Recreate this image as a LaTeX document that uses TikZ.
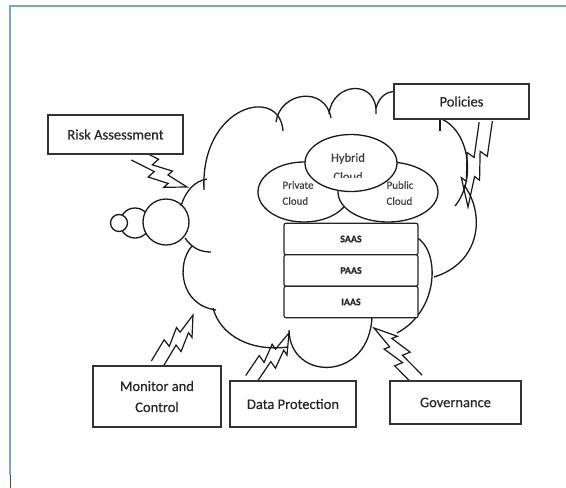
\documentclass[tikz,border=0pt]{standalone}
\usepackage{fontspec}
\setmainfont{Carlito}[FakeBold=0.4]
\usetikzlibrary{shapes.geometric,calc,backgrounds}

\definecolor{frameblue}{RGB}{122,166,196}
\definecolor{framedark}{RGB}{90,72,60}

\tikzset{
	cloudline/.style={line width=1.3pt, draw=black!90},
	boxnode/.style={draw=black!80, line width=1.1pt, fill=white, text=black!85, align=center, inner sep=0pt, font=\fontsize{14.5}{21}\selectfont},
	stackbox/.style={draw=black!85, line width=1.2pt, fill=white, rounded corners=2pt, minimum width=134, minimum height=31.5, inner sep=0pt, text=black!85, font=\bfseries\fontsize{10}{12}\selectfont},
	cloudpart/.style={ellipse, draw=black!90, line width=1.3pt, fill=white, inner sep=0pt},
	partlabel/.style={text=black!75, align=left, inner sep=0pt, font=\fontsize{11}{16}\selectfont},
	zap/.style={line width=1.2pt, draw=black!90, line join=miter}
}

\newcommand\zaplink[2]{%
	\draw[zap] ($(#1)!8pt!90:(#2)$) -- ($(#1)!0.40!(#2)!9.6pt!90:(#2)$) -- ($(#1)!0.36!(#2)!1.6pt!90:(#2)$) -- ($(#1)!0.68!(#2)!6.4pt!90:(#2)$) -- ($(#1)!0.65!(#2)!0.8pt!90:(#2)$) -- (#2) -- ($(#1)!0.69!(#2)!12pt!-90:(#2)$) -- ($(#1)!0.72!(#2)!6.4pt!-90:(#2)$) -- ($(#1)!0.40!(#2)!11pt!-90:(#2)$) -- ($(#1)!0.44!(#2)!3.2pt!-90:(#2)$) -- ($(#1)!0.04!(#2)!4.8pt!-90:(#2)$);
}

\begin{document}
\begin{tikzpicture}[x=1pt,y=-1pt]
	\useasboundingbox (0,0) rectangle (566,488);
	\draw [line width=1.6pt, frameblue] (10,475) -- (10,6) -- (566,6);
	\draw [line width=1.6pt, framedark] (10.5,475) -- (10.5,488);

	\begin{scope}[on background layer]
		\draw [cloudline, fill=white] (135,223) circle [radius=15];
		\draw [cloudline, fill=white] (119,223) circle [radius=8.5];
		\draw [cloudline, fill=white] (166,222) circle [radius=23];

		\draw [cloudline] (181,206) .. controls (186,190) and (195,181) .. (207,179);
		\draw [cloudline] (204,190) .. controls (200,105) and (280,85) .. (283,131);
		\draw [cloudline] (276,122) .. controls (280,92) and (325,85) .. (331,118);
		\draw [cloudline] (329,114) .. controls (332,82) and (378,78) .. (376,114);
		\draw [cloudline] (376,108) .. controls (380,95) and (388,90) .. (400,92);
		\draw [cloudline] (440,131) -- (440,119);
		\draw [cloudline] (436,117) .. controls (468,125) and (478,178) .. (455,206);
		\draw [cloudline] (464,185) .. controls (486,215) and (480,263) .. (434,277);
		\draw [cloudline] (416,237) .. controls (440,250) and (440,310) .. (397,333);
		\draw [cloudline] (372,316) .. controls (370,382) and (290,382) .. (289,330);
		\draw [cloudline] (213,308) .. controls (220,335) and (250,352) .. (288,347);
		\draw [cloudline] (192,246) .. controls (176,264) and (180,305) .. (216,310);
		\draw [cloudline] (185,238) .. controls (192,248) and (200,252) .. (211,252);
	\end{scope}

	\node [cloudpart, minimum width=92, minimum height=60] (private) at (304,192) {};
	\node [cloudpart, minimum width=100, minimum height=60] (public) at (388,192) {};
	\node [cloudpart, minimum width=92, minimum height=57] (hybrid) at (351,163) {};
	\node [partlabel] (privatelbl) at (298,193) {Private\\Cloud};
	\node [partlabel] (publiclbl) at (400,193) {Public\\Cloud};
	\begin{scope}
		\clip (300,130) rectangle (400,177);
		\node [partlabel, align=center, font=\fontsize{12.5}{19}\selectfont] (hybridlbl) at (348,167) {Hybrid\\Cloud};
	\end{scope}

	\node [stackbox] (saas) at (351,239) {SAAS};
	\node [stackbox] (paas) at (351,270.5) {PAAS};
	\node [stackbox] (iaas) at (351,302) {IAAS};

	\node [boxnode, minimum width=135, minimum height=39] (risk) at (115.5,134.5) {Risk Assessment};
	\node [boxnode, minimum width=135, minimum height=35] (policies) at (461.5,101.5) {Policies};
	\node [boxnode, minimum width=128, minimum height=61] (monitor) at (157,396.5) {Monitor and\\Control};
	\node [boxnode, minimum width=126, minimum height=46] (dataprot) at (293,404) {Data Protection};
	\node [boxnode, minimum width=131, minimum height=43] (governance) at (455.5,402.5) {Governance};

	\coordinate (riskhit) at (187,187);
	\coordinate (policieshit) at (468,207);
	\coordinate (monitorhit) at (193,315);
	\coordinate (datahit) at (289,333);
	\coordinate (governancehit) at (374,328);
	\coordinate (riskbase) at ([xshift=16pt]risk.south);
	\coordinate (policiesbase) at ([xshift=23pt]policies.south);
	\coordinate (monitorbase) at ([xshift=1pt]monitor.north);
	\coordinate (database) at ([xshift=-41pt]dataprot.north);
	\coordinate (governancebase) at ([xshift=-35pt]governance.north);

	\begin{scope}[on background layer]
		\zaplink{riskbase}{riskhit}
		\zaplink{policiesbase}{policieshit}
		\zaplink{monitorbase}{monitorhit}
		\zaplink{database}{datahit}
		\zaplink{governancebase}{governancehit}
	\end{scope}
\end{tikzpicture}
\end{document}
